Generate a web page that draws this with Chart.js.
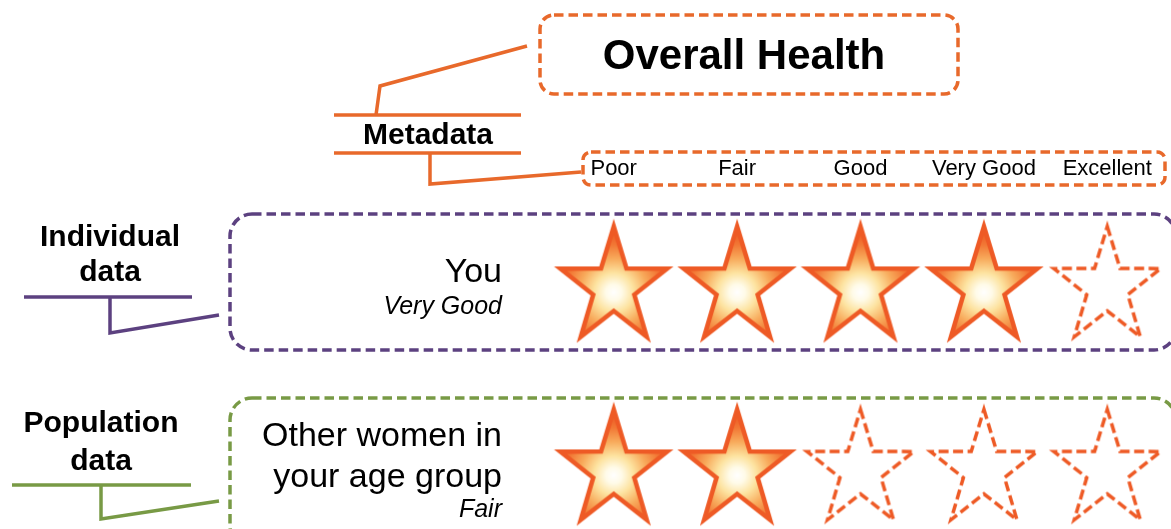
<!DOCTYPE html>
<html>
<head>
<meta charset="utf-8">
<script src="https://cdn.jsdelivr.net/npm/chart.js@4"></script>
<style>
  body { margin: 0; background: #fff; }
  #wrap { width: 1171px; height: 529px; position: relative; }
</style>
</head>
<body>
<div id="wrap"><canvas id="myChart"></canvas></div>
<script>
const levels = ["Poor", "Fair", "Good", "Very Good", "Excellent"];
const groups = ["You", "Other women in your age group"];
const groupLines = [["You"], ["Other women in", "your age group"]];
const groupRatings = [4, 2];
const groupRatingText = ["Very Good", "Fair"];
const rows = [0, 1];

const ORANGE = "#e8692b";
const PURPLE = "#5c4180";
const GREEN = "#789a45";
const STAR = "#ee5a25";
const FONT = "'Liberation Sans', Arial, Helvetica, sans-serif";

function starPath(ctx, cx, cy, R, r, sx) {
  ctx.beginPath();
  for (let k = 0; k < 10; k++) {
    const rad = k % 2 ? r : R;
    const a = -Math.PI / 2 + k * Math.PI / 5;
    const px = cx + Math.cos(a) * rad * sx;
    const py = cy + Math.sin(a) * rad;
    if (k) ctx.lineTo(px, py); else ctx.moveTo(px, py);
  }
  ctx.closePath();
}

// star images used as point styles
function makeStar(filled) {
  const c = document.createElement("canvas");
  c.width = 150; c.height = 150;
  const g = c.getContext("2d");
  starPath(g, 75, 75, 61, 23.5, 0.92);
  g.lineJoin = "miter";
  g.miterLimit = 10;
  if (filled) {
    const grad = g.createRadialGradient(75, 80, 0, 75, 80, 58);
    grad.addColorStop(0, "#ffffff");
    grad.addColorStop(0.14, "#fffbe8");
    grad.addColorStop(0.34, "#fde3a0");
    grad.addColorStop(0.58, "#f8ab5c");
    grad.addColorStop(0.82, "#f27835");
    grad.addColorStop(1, "#ee5f27");
    g.fillStyle = grad;
    g.fill();
    g.lineWidth = 4.5;
    g.strokeStyle = STAR;
    g.stroke();
  } else {
    g.setLineDash([10, 4.5]);
    g.lineWidth = 3.5;
    g.strokeStyle = STAR;
    g.stroke();
  }
  return c;
}
const fullStar = makeStar(true);
const emptyStar = makeStar(false);

function roundBox(ctx, x, y, w, h, r, color) {
  ctx.save();
  ctx.beginPath();
  ctx.roundRect(x, y, w, h, r);
  ctx.setLineDash([9.5, 5]);
  ctx.lineWidth = 3.5;
  ctx.strokeStyle = color;
  ctx.stroke();
  ctx.restore();
}

function polyline(ctx, pts, color) {
  ctx.save();
  ctx.beginPath();
  pts.forEach((p, i) => (i ? ctx.lineTo(p[0], p[1]) : ctx.moveTo(p[0], p[1])));
  ctx.lineWidth = 3.5;
  ctx.strokeStyle = color;
  ctx.lineJoin = "miter";
  ctx.stroke();
  ctx.restore();
}

function text(ctx, s, x, y, font, align) {
  ctx.font = font;
  ctx.textAlign = align || "center";
  ctx.textBaseline = "middle";
  ctx.fillStyle = "#000";
  ctx.fillText(s, x, y + 2);
}

const decorations = {
  id: "decorations",
  beforeDatasetsDraw(chart) {
    const ctx = chart.ctx;
    const xs = chart.scales.x;
    const ys = chart.scales.y;

    // title + metadata
    roundBox(ctx, 540, 15, 418, 79, 14, ORANGE);
    text(ctx, "Overall Health", 744, 55, "bold 42px " + FONT);
    polyline(ctx, [[527, 46], [380, 86], [376, 115]], ORANGE);
    polyline(ctx, [[334, 115], [521, 115]], ORANGE);
    polyline(ctx, [[334, 153], [521, 153]], ORANGE);
    text(ctx, "Metadata", 428, 134, "bold 30px " + FONT);
    polyline(ctx, [[430, 153], [430, 184], [581, 172]], ORANGE);

    roundBox(ctx, 583, 152, 582, 33, 8, ORANGE);
    levels.forEach((l, i) => {
      text(ctx, l, xs.getPixelForTick(i), 167, "22px " + FONT);
    });

    // individual
    roundBox(ctx, 230, 214, 946, 136, 22, PURPLE);
    text(ctx, "Individual", 110, 236, "bold 30px " + FONT);
    text(ctx, "data", 110, 271, "bold 30px " + FONT);
    polyline(ctx, [[24, 297], [192, 297]], PURPLE);
    polyline(ctx, [[110, 297], [110, 333], [219, 315]], PURPLE);

    // population
    roundBox(ctx, 230, 398, 946, 150, 22, GREEN);
    text(ctx, "Population", 101, 422, "bold 30px " + FONT);
    text(ctx, "data", 101, 460, "bold 30px " + FONT);
    polyline(ctx, [[12, 485], [191, 485]], GREEN);
    polyline(ctx, [[101, 485], [101, 519], [219, 501]], GREEN);

    // group labels, placed against each row
    groups.forEach((g, gi) => {
      const y = ys.getPixelForValue(rows[gi]);
      const lines = groupLines[gi];
      const top = y - 17 - (lines.length - 1) * 19;
      lines.forEach((ln, li) => {
        text(ctx, ln, 502, top + li * 41, "34px " + FONT, "right");
      });
      const yr = top + (lines.length - 1) * 41 + (lines.length > 1 ? 33 : 35);
      text(ctx, groupRatingText[gi], 502, yr, "italic 25px " + FONT, "right");
    });
  }
};

new Chart(document.getElementById("myChart"), {
  type: "scatter",
  data: {
    labels: levels,
    datasets: groups.map((g, gi) => ({
      label: g,
      data: levels.map((l) => ({ x: l, y: rows[gi] })),
      pointStyle: levels.map((l, i) => (i < groupRatings[gi] ? fullStar : emptyStar)),
      pointRadius: 3,
      pointHoverRadius: 3,
      clip: false,
    })),
  },
  options: {
    responsive: true,
    maintainAspectRatio: false,
    animation: false,
    layout: { autoPadding: false, padding: { left: 552, right: 2, top: 0, bottom: 0 } },
    scales: {
      x: { type: "category", labels: levels, offset: true, display: false },
      y: { type: "linear", min: -1.57, max: 1.32, reverse: true, display: false },
    },
    plugins: {
      legend: { display: false },
      tooltip: { enabled: false },
    },
  },
  plugins: [decorations],
});
</script>
</body>
</html>
